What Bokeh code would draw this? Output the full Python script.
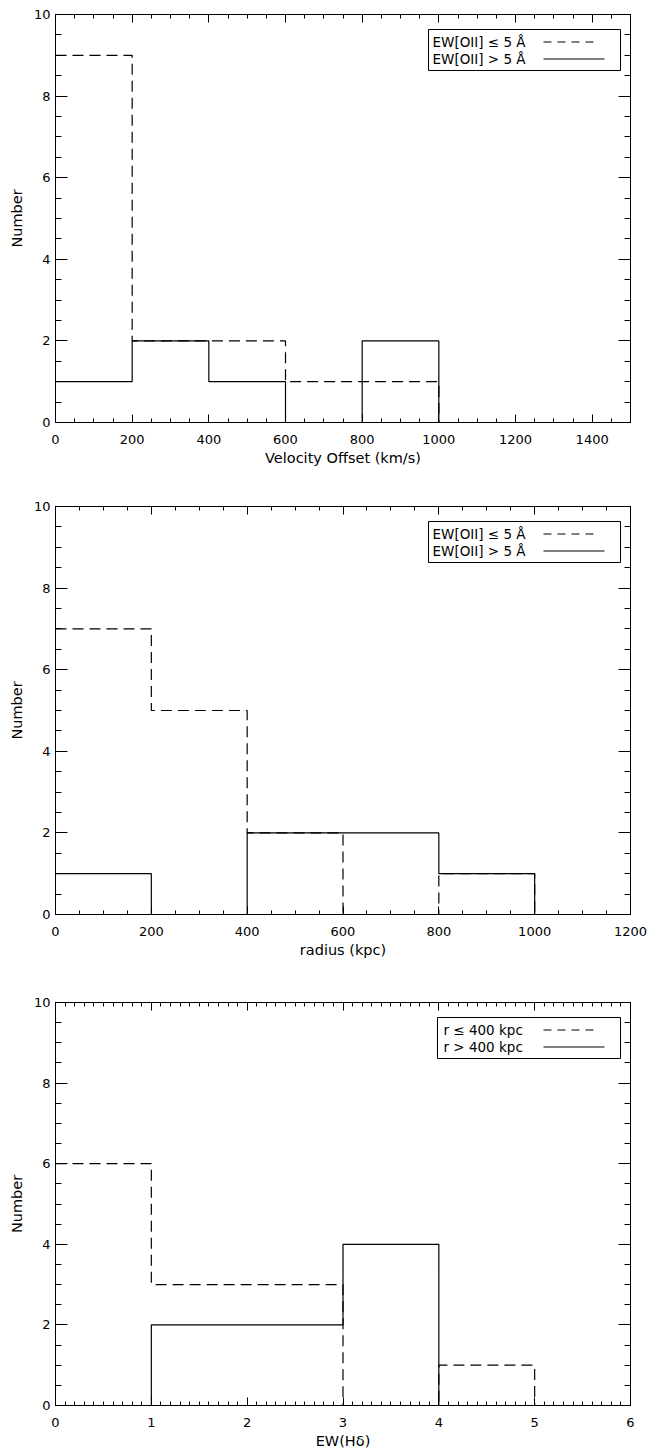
import numpy as np
from bokeh.plotting import figure
from bokeh.layouts import column
from bokeh.models import Range1d, FixedTicker, LinearAxis, BoxAnnotation, Label
from bokeh.embed import file_html
from bokeh.resources import INLINE

# ---------------- data ----------------
# Panel 1: velocity offset (km/s), bin width 200
vel_edges = [0, 200, 400, 600, 800, 1000, 1200, 1400, 1600]
vel_low = [9, 2, 2, 1, 1, 0, 0, 0]    # EW[OII] <= 5 A  (dashed)
vel_high = [1, 2, 1, 0, 2, 0, 0, 0]   # EW[OII] > 5 A   (solid)
vel_ticks = [0, 200, 400, 600, 800, 1000, 1200, 1400]

# Panel 2: radius (kpc), bin width 200
rad_edges = [0, 200, 400, 600, 800, 1000, 1200, 1400]
rad_low = [7, 5, 2, 0, 1, 0, 0]       # EW[OII] <= 5 A  (dashed)
rad_high = [1, 0, 2, 2, 1, 0, 0]      # EW[OII] > 5 A   (solid)
rad_ticks = [0, 200, 400, 600, 800, 1000, 1200]

# Panel 3: EW(Hdelta), bin width 1
hd_edges = [0, 1, 2, 3, 4, 5, 6, 7]
hd_low = [6, 3, 3, 0, 1, 0, 0]        # r <= 400 kpc (dashed)
hd_high = [0, 2, 2, 4, 0, 0, 0]       # r > 400 kpc  (solid)
hd_ticks = [0, 1, 2, 3, 4, 5, 6]

y_ticks = [0, 2, 4, 6, 8, 10]

legend_oii = ["EW[OII] \u2264 5 \u00c5", "EW[OII] > 5 \u00c5"]
legend_r = ["r \u2264 400 kpc", "r > 400 kpc"]

FONT = "DejaVu Sans"
FW = 575


def steps(edges, counts):
    xs, ys = [], []
    for i, c in enumerate(counts):
        xs += [edges[i], edges[i + 1]]
        ys += [c, c]
    return xs, ys


def make_panel(xr, xticks, xminor_step, xlabel, edges, low, high, labels,
               fh, btop, bbot, leg_left, leg_text, lab_standoff=12, title_standoff=3):
    p = figure(frame_width=FW, frame_height=fh,
               min_border_left=55, min_border_right=21,
               min_border_top=btop, min_border_bottom=bbot,
               x_range=Range1d(*xr), y_range=Range1d(0, 10),
               x_axis_type=None, y_axis_type=None,
               output_backend="svg", toolbar_location=None)
    p.grid.visible = False
    p.outline_line_color = "black"
    p.outline_line_width = 1
    p.background_fill_color = "white"
    p.border_fill_color = "white"

    xminor = list(np.arange(xr[0], xr[1] + 1e-9, xminor_step))
    yminor = list(np.arange(0, 10 + 1e-9, 0.5))

    def mk_axis(ticks, minor, major_in, minor_in, show):
        ax = LinearAxis(ticker=FixedTicker(ticks=ticks, minor_ticks=minor))
        ax.major_tick_in = major_in
        ax.major_tick_out = 0
        ax.minor_tick_in = minor_in
        ax.minor_tick_out = 0
        ax.axis_line_color = "black"
        ax.major_tick_line_color = "black"
        ax.minor_tick_line_color = "black"
        ax.major_label_text_font = FONT
        ax.axis_label_text_font = FONT
        ax.major_label_text_color = "black"
        ax.axis_label_text_color = "black"
        ax.axis_label_text_font_style = "normal"
        ax.major_label_text_font_size = "13px"
        ax.axis_label_text_font_size = "14.5px"
        if not show:
            ax.major_label_overrides = {t: "" for t in ticks}
            ax.major_label_standoff = 0
        return ax

    bottom = mk_axis(xticks, xminor, 8, 4, True)
    bottom.axis_label = xlabel
    bottom.major_label_standoff = lab_standoff
    bottom.axis_label_standoff = title_standoff
    top = mk_axis(xticks, xminor, 8, 4, False)
    left = mk_axis(y_ticks, yminor, 12, 6, True)
    left.axis_label = "Number"
    left.major_label_standoff = 5
    left.axis_label_standoff = 6
    right = mk_axis(y_ticks, yminor, 12, 6, False)
    p.add_layout(bottom, "below")
    p.add_layout(top, "above")
    p.add_layout(left, "left")
    p.add_layout(right, "right")

    xs, ys = steps(edges, low)
    p.line(xs, ys, line_color="black", line_width=1.2, line_dash="11 6")
    xs, ys = steps(edges, high)
    p.line(xs, ys, line_color="black", line_width=1.2)

    # legend (positions in frame pixels converted to data units)
    def dx(px):
        return xr[0] + px / FW * (xr[1] - xr[0])

    def dy(py):
        return 10 - py / fh * 10

    ltop = 15
    p.add_layout(BoxAnnotation(left=dx(leg_left), right=dx(565), top=dy(ltop), bottom=dy(ltop + 41),
                               fill_alpha=0, line_color="black", line_width=1, line_alpha=1))
    rows = [ltop + 12.5, ltop + 29.5]
    dashes = ["8 6", "solid"]
    ends = [540, 549]
    for lab, ry, d, e in zip(labels, rows, dashes, ends):
        p.add_layout(Label(x=dx(leg_text), y=dy(ry), text=lab, text_baseline="middle",
                           text_align="left", text_font=FONT, text_font_size="13.5px",
                           text_color="black"))
        p.line([dx(488), dx(e)], [dy(ry), dy(ry)], line_color="black", line_width=1.2, line_dash=d)
    return p


p1 = make_panel((0, 1500), vel_ticks, 50, "Velocity Offset (km/s)", vel_edges, vel_low, vel_high,
                legend_oii, 408, 14, 78, 373, 377)
p2 = make_panel((0, 1200), rad_ticks, 50, "radius (kpc)", rad_edges, rad_low, rad_high,
                legend_oii, 408, 6, 82, 373, 377)
p3 = make_panel((0, 6), hd_ticks, 0.1, "EW(H\u03b4)", hd_edges, hd_low, hd_high,
                legend_r, 403, 6, 47, 382, 388)

layout = column(p1, p2, p3, spacing=0)
open("out.html", "w").write(file_html(layout, INLINE))
